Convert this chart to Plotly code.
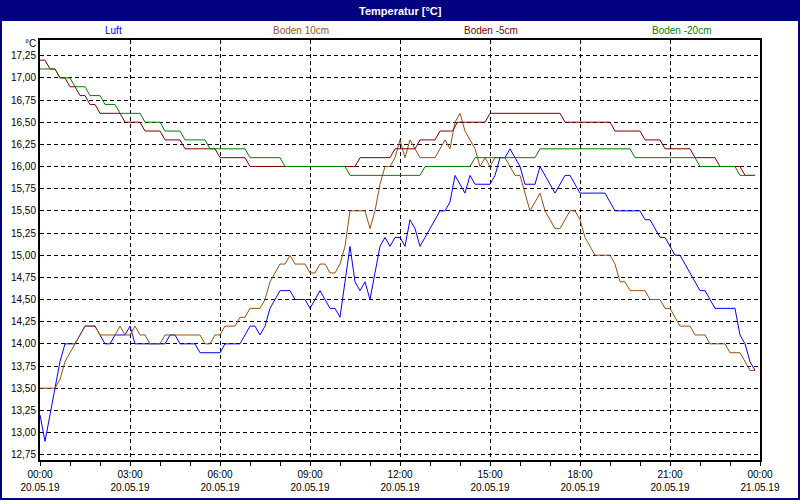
import pandas as pd
import plotly.graph_objects as go

# Temperaturverlauf 20.05.19, Werte im 10-Minuten-Raster (nur Knickpunkte)
luft_t = ["00:00", "00:10", "00:20", "00:30", "00:40", "00:50", "01:10", "01:20", "01:30", "01:50",
          "02:00", "02:10", "02:20", "02:30", "02:50", "03:00", "03:10", "04:10", "04:20", "04:30",
          "04:40", "05:10", "05:20", "06:00", "06:10", "06:40", "07:00", "07:10", "07:20", "07:30",
          "07:40", "07:50", "08:00", "08:20", "08:30", "08:50", "09:00", "09:20", "09:40", "09:50",
          "10:00", "10:10", "10:20", "10:30", "10:40", "10:50", "11:00", "11:10", "11:20", "11:30",
          "11:40", "11:50", "12:00", "12:10", "12:20", "12:30", "12:40", "12:50", "13:00", "13:10",
          "13:20", "13:30", "13:40", "13:50", "14:00", "14:10", "14:20", "14:30", "15:00", "15:10",
          "15:20", "15:30", "15:40", "15:50", "16:00", "16:10", "16:30", "16:40", "16:50", "17:00",
          "17:10", "17:30", "17:40", "17:50", "18:00", "18:50", "19:00", "19:10", "20:00", "20:10",
          "20:20", "20:30", "20:40", "20:50", "21:00", "21:10", "21:20", "21:30", "21:40", "21:50",
          "22:00", "22:10", "22:20", "22:30", "23:10", "23:20", "23:30", "23:40", "23:50"]
luft_v = [13.2, 12.9, 13.2, 13.5, 13.8, 14.0, 14.0, 14.1, 14.2, 14.2,
          14.1, 14.0, 14.0, 14.1, 14.1, 14.2, 14.0, 14.0, 14.1, 14.1,
          14.0, 14.0, 13.9, 13.9, 14.0, 14.0, 14.2, 14.2, 14.1, 14.2,
          14.4, 14.5, 14.6, 14.6, 14.5, 14.5, 14.4, 14.6, 14.4, 14.4,
          14.3, 14.7, 15.1, 14.7, 14.6, 14.7, 14.5, 14.8, 15.1, 15.2,
          15.1, 15.2, 15.2, 15.1, 15.4, 15.3, 15.1, 15.2, 15.3, 15.4,
          15.5, 15.5, 15.6, 15.9, 15.8, 15.7, 15.9, 15.8, 15.8, 15.9,
          16.1, 16.1, 16.2, 16.1, 16.0, 15.8, 15.8, 16.0, 15.9, 15.8,
          15.7, 15.9, 15.9, 15.8, 15.7, 15.7, 15.6, 15.5, 15.5, 15.4,
          15.4, 15.3, 15.2, 15.2, 15.1, 15.0, 15.0, 14.9, 14.8, 14.7,
          14.6, 14.6, 14.5, 14.4, 14.4, 14.1, 14.0, 13.8, 13.7]

boden10_t = ["00:00", "00:30", "00:40", "00:50", "01:00", "01:10", "01:20", "01:30", "01:50", "02:00",
             "02:30", "02:40", "02:50", "03:00", "03:10", "03:20", "03:30", "03:40", "04:00", "04:10",
             "05:20", "05:30", "05:40", "05:50", "06:00", "06:10", "06:30", "06:40", "06:50", "07:00",
             "07:20", "07:30", "07:40", "07:50", "08:00", "08:10", "08:20", "08:30", "08:50", "09:00",
             "09:10", "09:20", "09:30", "09:40", "09:50", "10:00", "10:10", "10:20", "10:50", "11:00",
             "11:10", "11:20", "11:30", "11:40", "11:50", "12:00", "12:10", "12:20", "12:30", "12:40",
             "13:10", "13:20", "13:30", "13:40", "13:50", "14:00", "14:10", "14:20", "14:30", "14:40",
             "14:50", "15:00", "15:10", "15:30", "15:40", "15:50", "16:00", "16:10", "16:20", "16:30",
             "16:40", "16:50", "17:00", "17:10", "17:20", "17:30", "17:40", "17:50", "18:00", "18:10",
             "18:20", "18:30", "19:00", "19:10", "19:20", "19:30", "19:40", "20:10", "20:20", "20:40",
             "20:50", "21:00", "21:10", "21:20", "21:40", "21:50", "22:10", "22:20", "22:50", "23:00",
             "23:20", "23:30", "23:40", "23:50"]
boden10_v = [13.5, 13.5, 13.6, 13.8, 13.9, 14.0, 14.1, 14.2, 14.2, 14.1,
             14.1, 14.2, 14.1, 14.1, 14.2, 14.1, 14.1, 14.0, 14.0, 14.1,
             14.1, 14.0, 14.0, 14.1, 14.1, 14.2, 14.2, 14.3, 14.3, 14.4,
             14.4, 14.5, 14.7, 14.8, 14.9, 14.9, 15.0, 14.9, 14.9, 14.8,
             14.8, 14.9, 14.9, 14.8, 14.8, 14.9, 15.1, 15.5, 15.5, 15.3,
             15.5, 15.8, 16.0, 16.0, 16.1, 16.3, 16.1, 16.3, 16.2, 16.1,
             16.1, 16.2, 16.3, 16.2, 16.5, 16.6, 16.4, 16.3, 16.2, 16.0,
             16.1, 16.0, 16.1, 16.1, 16.0, 15.9, 15.9, 15.7, 15.5, 15.6,
             15.7, 15.5, 15.4, 15.3, 15.3, 15.4, 15.5, 15.5, 15.4, 15.2,
             15.1, 15.0, 15.0, 14.9, 14.7, 14.7, 14.6, 14.6, 14.5, 14.5,
             14.4, 14.4, 14.3, 14.2, 14.2, 14.1, 14.1, 14.0, 14.0, 13.9,
             13.9, 13.8, 13.7, 13.7]

boden5_t = ["00:00", "00:10", "00:20", "00:30", "00:40", "00:50", "01:00", "01:10", "01:20", "01:30",
            "01:40", "01:50", "02:00", "02:40", "02:50", "03:20", "03:30", "04:00", "04:10", "04:40",
            "04:50", "05:50", "06:00", "06:50", "07:00", "10:30", "10:40", "11:40", "11:50", "12:30",
            "12:40", "13:10", "13:20", "13:45", "13:55", "14:50", "15:00", "17:20", "17:30", "19:00",
            "19:10", "20:00", "20:10", "20:40", "20:50", "21:40", "21:50", "22:30", "22:40", "23:20",
            "23:30", "23:50"]
boden5_v = [17.2, 17.2, 17.1, 17.1, 17.0, 17.0, 16.9, 16.9, 16.8, 16.8,
            16.7, 16.7, 16.6, 16.6, 16.5, 16.5, 16.4, 16.4, 16.3, 16.3,
            16.2, 16.2, 16.1, 16.1, 16.0, 16.0, 16.1, 16.1, 16.2, 16.2,
            16.3, 16.3, 16.4, 16.4, 16.5, 16.5, 16.6, 16.6, 16.5, 16.5,
            16.4, 16.4, 16.3, 16.3, 16.2, 16.2, 16.1, 16.1, 16.0, 16.0,
            15.9, 15.9]

boden20_t = ["00:00", "00:30", "00:40", "01:00", "01:10", "01:30", "01:40", "02:00", "02:10", "02:30",
             "02:40", "03:20", "03:30", "04:00", "04:10", "04:40", "04:50", "05:30", "05:40", "06:50",
             "07:00", "08:00", "08:10", "10:10", "10:20", "12:40", "12:50", "14:20", "14:30", "16:30",
             "16:40", "19:40", "19:50", "21:50", "22:00", "23:10", "23:20", "23:50"]
boden20_v = [17.1, 17.1, 17.0, 17.0, 16.9, 16.9, 16.8, 16.8, 16.7, 16.7,
             16.6, 16.6, 16.5, 16.5, 16.4, 16.4, 16.3, 16.3, 16.2, 16.2,
             16.1, 16.1, 16.0, 16.0, 15.9, 15.9, 16.0, 16.0, 16.1, 16.1,
             16.2, 16.2, 16.1, 16.1, 16.0, 16.0, 15.9, 15.9]

x_tick_times = ["2019-05-20 00:00", "2019-05-20 03:00", "2019-05-20 06:00", "2019-05-20 09:00",
                "2019-05-20 12:00", "2019-05-20 15:00", "2019-05-20 18:00", "2019-05-20 21:00",
                "2019-05-21 00:00"]
x_tick_labels = ["00:00<br>20.05.19", "03:00<br>20.05.19", "06:00<br>20.05.19", "09:00<br>20.05.19",
                 "12:00<br>20.05.19", "15:00<br>20.05.19", "18:00<br>20.05.19", "21:00<br>20.05.19",
                 "00:00<br>21.05.19"]
y_ticks = [12.75, 13.0, 13.25, 13.5, 13.75, 14.0, 14.25, 14.5, 14.75,
           15.0, 15.25, 15.5, 15.75, 16.0, 16.25, 16.5, 16.75, 17.0, 17.25]
y_tick_labels = ["12,75", "13,00", "13,25", "13,50", "13,75", "14,00", "14,25", "14,50", "14,75",
                 "15,00", "15,25", "15,50", "15,75", "16,00", "16,25", "16,50", "16,75", "17,00", "17,25"]

series = [
    ("Luft", luft_t, luft_v, "#0000ff"),
    ("Boden 10cm", boden10_t, boden10_v, "#9c4f12"),
    ("Boden -5cm", boden5_t, boden5_v, "#800000"),
    ("Boden -20cm", boden20_t, boden20_v, "#008000"),
]

FONT = "Liberation Sans"
NAVY = "#000080"

fig = go.Figure()
for name, times, values, color in series:
    fig.add_trace(go.Scatter(
        x=pd.to_datetime(["2019-05-20 " + t for t in times]),
        y=values,
        mode="lines",
        name=name,
        line=dict(color=color, width=1),
    ))

hours = pd.date_range("2019-05-20 00:00", "2019-05-21 00:00", freq="1h")

fig.update_xaxes(
    type="date",
    range=["2019-05-20 00:00", "2019-05-21 00:00"],
    automargin=False,
    tickmode="array",
    tickvals=pd.to_datetime(x_tick_times),
    ticktext=x_tick_labels,
    ticks="outside", ticklen=4, tickcolor="black",
    showgrid=True, gridcolor="black", gridwidth=1, griddash="4px,3px",
    showline=True, linecolor="black", linewidth=2, mirror=True,
    zeroline=False,
    minor=dict(tickmode="array", tickvals=hours, ticks="outside", ticklen=4,
               tickcolor="black", showgrid=False),
    tickfont=dict(family=FONT, size=10, color="black"),
)
fig.update_yaxes(
    range=[12.69, 17.427],
    automargin=False,
    tickmode="array",
    tickvals=y_ticks,
    ticktext=y_tick_labels,
    ticks="",
    showgrid=True, gridcolor="black", gridwidth=1, griddash="4px,3px",
    showline=True, linecolor="black", linewidth=2, mirror=True,
    zeroline=False,
    tickfont=dict(family=FONT, size=10, color="black"),
)

# paper coords: plot area spans px 40..760 horizontally, 40..460 vertically
def px_x(px):
    return (px - 40) / 720

def px_y(py):
    return (460 - py) / 420

shapes = [
    dict(type="rect", xref="paper", yref="paper",
         x0=px_x(0), x1=px_x(800), y0=px_y(21), y1=px_y(0),
         fillcolor=NAVY, line=dict(width=0), layer="above"),
    dict(type="rect", xref="paper", yref="paper",
         x0=px_x(1), x1=px_x(799), y0=px_y(499), y1=px_y(1),
         fillcolor="rgba(0,0,0,0)", line=dict(color=NAVY, width=2), layer="above"),
]

annotations = [
    dict(text="<b>Temperatur [°C]</b>", x=0.5, y=px_y(11), xref="paper", yref="paper",
         xanchor="center", yanchor="middle",
         showarrow=False, font=dict(family=FONT, size=11, color="white")),
    dict(text="°C", x=px_x(38), y=px_y(44), xref="paper", yref="paper",
         xanchor="right", yanchor="middle",
         showarrow=False, font=dict(family=FONT, size=10, color="black")),
]
label_px = [113, 301, 491, 681]
for (name, _, _, color), lx in zip(series, label_px):
    annotations.append(dict(text=name, x=px_x(lx), y=px_y(30), xref="paper", yref="paper",
                            xanchor="center", yanchor="middle",
                            showarrow=False, font=dict(family=FONT, size=10, color=color)))

fig.update_layout(
    width=800, height=500,
    margin=dict(l=40, r=40, t=40, b=40),
    paper_bgcolor="white",
    plot_bgcolor="white",
    showlegend=False,
    shapes=shapes,
    annotations=annotations,
)

# the page body has a default 8px margin; drop it so the chart sits at (0, 0)
fig.write_html("out.html",
               config={"displayModeBar": False},
               post_script="document.body.style.margin='0';document.body.style.overflow='hidden';")
